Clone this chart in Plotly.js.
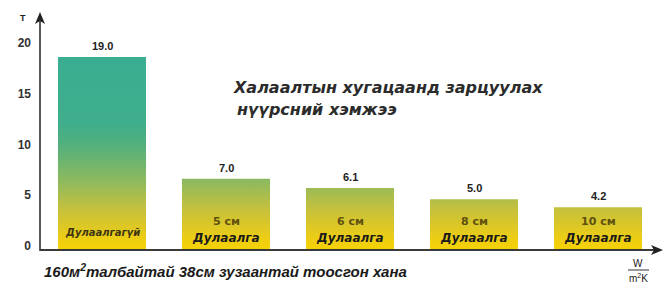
<!DOCTYPE html>
<html>
<head>
<meta charset="utf-8">
<script src="https://cdn.plot.ly/plotly-3.0.1.min.js"></script>
<style>html,body{margin:0;padding:0;background:#fff;}#chart{width:670px;height:284px;}</style>
</head>
<body>
<div id="chart"></div>
<script>
// ---- data ----
const categories = ["Дулаалгагүй", "5 см", "6 см", "8 см", "10 см"];
const values = [19.0, 7.0, 6.1, 5.0, 4.2];
const valueLabels = ["19.0", "7.0", "6.1", "5.0", "4.2"];
const insulationLabel = "Дулаалга";
const yTicks = [0, 5, 10, 15, 20];
const titleLine1 = "Халаалтын хугацаанд зарцуулах";
const titleLine2 = "нүүрсний хэмжээ";
const bottomText = "160м<sup>2</sup>талбайтай 38см зузаантай тоосгон хана";
const yUnit = "T";

// ---- style ----
const FONT = "Liberation Sans, Arial, sans-serif";
const WIDE = "DejaVu Sans, Verdana, sans-serif";
const halfW = 0.355;
const gradScale = [
  [0.00, "#f6d204"],
  [0.05, "#efce12"],
  [0.20, "#c9c13a"],
  [0.36, "#8db95f"],
  [0.55, "#50b07e"],
  [0.66, "#3fae8c"],
  [1.00, "#3aae91"]
];

const traces = values.map((v, i) => ({
  type: "scatter",
  mode: "lines",
  x: [i - halfW, i + halfW, i + halfW, i - halfW, i - halfW],
  y: [0, 0, v, v, 0],
  fill: "toself",
  line: {width: 0, color: "rgba(0,0,0,0)"},
  fillgradient: {type: "vertical", start: 0, stop: 19, colorscale: gradScale},
  hoverinfo: "skip",
  showlegend: false
}));

const annotations = [];
// value labels
values.forEach((v, i) => {
  annotations.push({
    x: i, y: v, xref: "x", yref: "y", text: valueLabels[i],
    showarrow: false, yanchor: "bottom", yshift: 3,
    font: {family: FONT, size: 11, weight: "bold", color: "#222"}
  });
});
// inside labels
categories.forEach((c, i) => {
  if (i === 0) {
    annotations.push({
      x: i, y: 0, xref: "x", yref: "y", text: c, showarrow: false,
      yanchor: "middle", yshift: 18,
      font: {family: WIDE, size: 10, weight: "bold", style: "italic", color: "#3d3510"}
    });
  } else {
    annotations.push({
      x: i, y: 0, xref: "x", yref: "y", text: c, showarrow: false,
      yanchor: "middle", yshift: 29,
      font: {family: WIDE, size: 11, weight: "bold", color: "#5e4f0e"}
    });
    annotations.push({
      x: i, y: 0, xref: "x", yref: "y", text: insulationLabel, showarrow: false,
      yanchor: "middle", yshift: 12,
      font: {family: WIDE, size: 12, weight: "bold", style: "italic", color: "#1a1a1a"}
    });
  }
});
// title
annotations.push({
  xref: "paper", yref: "paper", x: (231 - 40) / 620, y: (250 - 87) / 240,
  xanchor: "left", yanchor: "middle", showarrow: false, text: titleLine1,
  font: {family: WIDE, size: 16, weight: "bold", style: "italic", color: "#2b2b2b"}
});
annotations.push({
  xref: "paper", yref: "paper", x: (235 - 40) / 620, y: (250 - 110) / 240,
  xanchor: "left", yanchor: "middle", showarrow: false, text: titleLine2,
  font: {family: WIDE, size: 16, weight: "bold", style: "italic", color: "#2b2b2b"}
});
// bottom text
annotations.push({
  xref: "paper", yref: "paper", x: (42 - 40) / 620, y: (250 - 270) / 240,
  xanchor: "left", yanchor: "middle", showarrow: false, text: bottomText,
  font: {family: FONT, size: 15, weight: "bold", style: "italic", color: "#1a1a1a"}
});
// unit T
annotations.push({
  xref: "paper", yref: "paper", x: (23 - 40) / 620, y: (250 - 18) / 240,
  xanchor: "center", yanchor: "middle", showarrow: false, text: yUnit,
  font: {family: FONT, size: 9, weight: "bold", color: "#222"}
});
// unit W / m2K
annotations.push({
  xref: "paper", yref: "paper", x: (638 - 40) / 620, y: (250 - 263) / 240,
  xanchor: "center", yanchor: "middle", showarrow: false, text: "W",
  font: {family: FONT, size: 10, color: "#222"}
});
annotations.push({
  xref: "paper", yref: "paper", x: (638 - 40) / 620, y: (250 - 278) / 240,
  xanchor: "center", yanchor: "middle", showarrow: false, text: "m<sup>2</sup>K",
  font: {family: FONT, size: 10, color: "#222"}
});

const px = (v) => (v - 40) / 620;   // pixel -> paper x
const py = (v) => (250 - v) / 240;  // pixel -> paper y
const shapes = [
  // fraction bar of unit
  {type: "line", xref: "paper", yref: "paper", x0: px(628), x1: px(649), y0: py(270), y1: py(270),
   line: {color: "#333", width: 1}},
  // y axis line
  {type: "line", xref: "paper", yref: "paper", x0: px(40), x1: px(40), y0: py(251), y1: py(18),
   line: {color: "#222", width: 1.5}},
  // x axis line
  {type: "line", xref: "paper", yref: "paper", x0: px(40), x1: px(656), y0: py(250), y1: py(250),
   line: {color: "#3a3a3a", width: 2}},
  // y arrowhead
  {type: "path", xref: "paper", yref: "paper", xsizemode: "pixel", ysizemode: "pixel",
   xanchor: px(40), yanchor: py(12),
   path: "M0,0 L5,-12 L0,-9 L-5,-12 Z", fillcolor: "#222", line: {width: 0}},
  // x arrowhead
  {type: "path", xref: "paper", yref: "paper", xsizemode: "pixel", ysizemode: "pixel",
   xanchor: px(663), yanchor: py(250),
   path: "M0,0 L-12,5 L-9,0 L-12,-5 Z", fillcolor: "#222", line: {width: 0}}
];

const layout = {
  width: 670, height: 284,
  margin: {l: 40, r: 10, t: 10, b: 34, pad: 0},
  paper_bgcolor: "#fff", plot_bgcolor: "#fff",
  showlegend: false,
  xaxis: {range: [-0.5, 4.5], visible: false, fixedrange: true},
  yaxis: {
    range: [0, 23.62], tickvals: yTicks, ticktext: yTicks.map(String),
    showgrid: false, zeroline: false, showline: false, ticks: "",
    ticklabelstandoff: 8, ticklabelshift: -4,
    tickfont: {family: FONT, size: 12, weight: "bold", color: "#333"},
    fixedrange: true
  },
  annotations: annotations,
  shapes: shapes
};

Plotly.newPlot("chart", traces, layout, {displayModeBar: false, staticPlot: true});
</script>
</body>
</html>
